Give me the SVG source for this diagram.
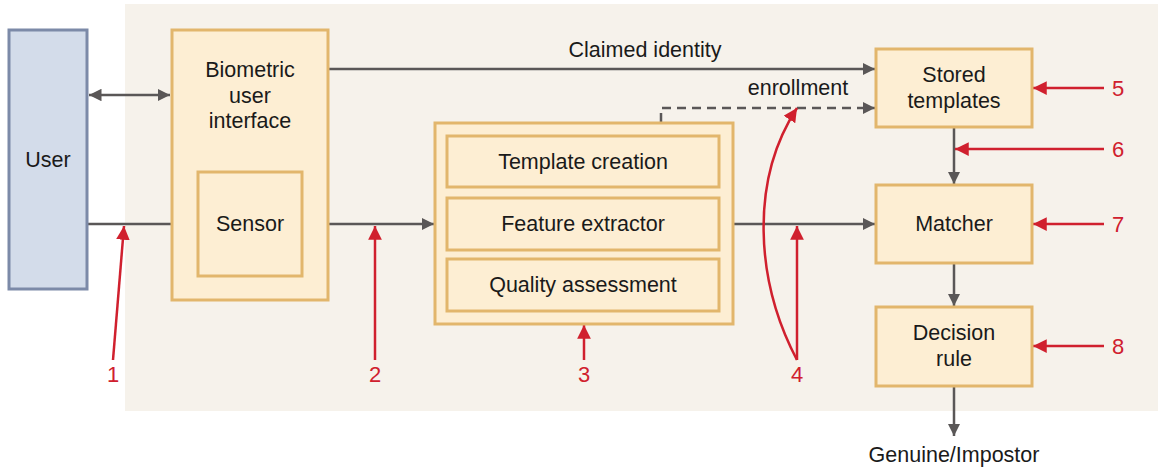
<svg xmlns="http://www.w3.org/2000/svg" width="1158" height="467" viewBox="0 0 1158 467">
<style>
.box{fill:#fdeed3;stroke:#e2b66c;stroke-width:3}
.user{fill:#d3dcea;stroke:#7c8aa8;stroke-width:3}
.t{font-family:"Liberation Sans",Arial,sans-serif;font-size:21.5px;fill:#1a1a1a;text-anchor:middle}
.r{font-family:"Liberation Sans",Arial,sans-serif;font-size:22px;fill:#d0202e;text-anchor:middle}
.g{stroke:#5a5757;stroke-width:2.5;fill:none}
.red{stroke:#d0202e;stroke-width:2.5;fill:none}
</style>
<defs>
<marker id="ag" viewBox="0 0 10 10" refX="10" refY="5" markerWidth="5" markerHeight="5" orient="auto-start-reverse" markerUnits="strokeWidth"><path d="M0,0 L10,5 L0,10 z" fill="#5a5757"/></marker>
<marker id="ar" viewBox="0 0 10 10" refX="10" refY="5" markerWidth="5.5" markerHeight="5.5" orient="auto" markerUnits="strokeWidth"><path d="M0,0 L10,5 L0,10 z" fill="#d0202e"/></marker>
</defs>
<rect x="0" y="0" width="1158" height="467" fill="#ffffff"/>
<rect x="125" y="4" width="1033" height="407" fill="#f6f2eb"/>

<g id="connectors">
<path class="g" d="M89,95 H170" marker-start="url(#ag)" marker-end="url(#ag)"/>
<path class="g" d="M87,224 H172"/>
<path class="g" d="M302,224 H434" marker-end="url(#ag)"/>
<path class="g" d="M328,69 H875" marker-end="url(#ag)"/>
<path class="g" d="M661,122 V108 H875" stroke-dasharray="9,6" marker-end="url(#ag)"/>
<path class="g" d="M733,224 H875" marker-end="url(#ag)"/>
<path class="g" d="M954,127 V184" marker-end="url(#ag)"/>
<path class="g" d="M954,263 V306" marker-end="url(#ag)"/>
<path class="g" d="M954,386 V436" marker-end="url(#ag)"/>
<text class="t" x="645" y="57">Claimed identity</text>
<text class="t" x="798" y="95">enrollment</text>
<text class="t" x="954" y="462">Genuine/Impostor</text>
</g>

<g id="attacks">
<path class="red" d="M113,360 L124,226" marker-end="url(#ar)"/>
<path class="red" d="M375,360 V226" marker-end="url(#ar)"/>
<path class="red" d="M584,360 V325" marker-end="url(#ar)"/>
<path class="red" d="M797,360 V226" marker-end="url(#ar)"/>
<path class="red" d="M797,360 C755,280 750,180 797,108" marker-end="url(#ar)"/>
<path class="red" d="M1104,88 H1033" marker-end="url(#ar)"/>
<path class="red" d="M1104,149 H955" marker-end="url(#ar)"/>
<path class="red" d="M1104,224 H1033" marker-end="url(#ar)"/>
<path class="red" d="M1104,346 H1033" marker-end="url(#ar)"/>
<text class="r" x="113" y="382">1</text>
<text class="r" x="375" y="382">2</text>
<text class="r" x="584" y="382">3</text>
<text class="r" x="797" y="382">4</text>
<text class="r" x="1118" y="96">5</text>
<text class="r" x="1118" y="157">6</text>
<text class="r" x="1118" y="232">7</text>
<text class="r" x="1118" y="354">8</text>
</g>

<g id="user"><rect class="user" x="9" y="30" width="78" height="259"/><text class="t" x="48" y="167">User</text></g>
<g id="bui"><rect class="box" x="172" y="30" width="156" height="270"/>
<text class="t" x="250" y="77">Biometric</text><text class="t" x="250" y="103">user</text><text class="t" x="250" y="128">interface</text></g>
<g id="sensor"><rect class="box" x="198" y="172" width="104" height="104"/><text class="t" x="250" y="231">Sensor</text></g>
<g id="processing"><rect class="box" x="435" y="123" width="298" height="201"/></g>
<g id="template"><rect class="box" x="447" y="136" width="272" height="51"/><text class="t" x="583" y="169">Template creation</text></g>
<g id="feature"><rect class="box" x="447" y="198" width="272" height="52"/><text class="t" x="583" y="231">Feature extractor</text></g>
<g id="quality"><rect class="box" x="447" y="259" width="272" height="52"/><text class="t" x="583" y="292">Quality assessment</text></g>
<g id="stored"><rect class="box" x="876" y="49" width="156" height="78"/><text class="t" x="954" y="82">Stored</text><text class="t" x="954" y="108">templates</text></g>
<g id="matcher"><rect class="box" x="876" y="185" width="156" height="78"/><text class="t" x="954" y="231">Matcher</text></g>
<g id="decision"><rect class="box" x="876" y="307" width="156" height="79"/><text class="t" x="954" y="340">Decision</text><text class="t" x="954" y="366">rule</text></g>
</svg>
